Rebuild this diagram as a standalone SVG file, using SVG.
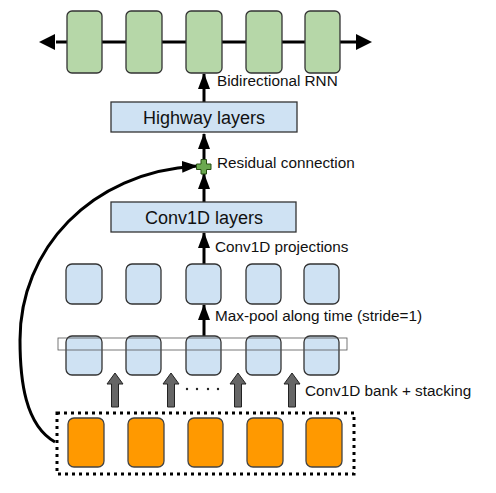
<svg xmlns="http://www.w3.org/2000/svg" width="496" height="493" viewBox="0 0 496 493">
<style>
.green{fill:#b6d7a8;stroke:#333;stroke-width:1.3}
.blue{fill:#cfe2f3;stroke:#333;stroke-width:1.3}
.orange{fill:#ff9900;stroke:#444;stroke-width:1.3}
.lbl{font-family:"Liberation Sans",Arial,sans-serif;font-size:15.3px;fill:#111}
.big{font-family:"Liberation Sans",Arial,sans-serif;font-size:18px;fill:#111;text-anchor:middle}
.conn{stroke:#000;stroke-width:3;fill:none}
.block{fill:#666;stroke:#222;stroke-width:1}
</style>
<defs>
<marker id="ah" markerUnits="userSpaceOnUse" viewBox="0 0 16 12" refX="15" refY="6" markerWidth="16" markerHeight="12" orient="auto">
<path d="M0,0 L16,6 L0,12 Z" fill="#000"/>
</marker>
</defs>
<rect width="496" height="493" fill="#fff"/>
<g id="connectors">
<line class="conn" x1="56" y1="42" x2="356" y2="42"/>
<path d="M39,42 L55,34 L55,50 Z" fill="#000"/>
<path d="M372,42 L356,34 L356,50 Z" fill="#000"/>
<line class="conn" x1="204" y1="102" x2="204" y2="74" marker-end="url(#ah)"/>
<line class="conn" x1="204" y1="159" x2="204" y2="134" marker-end="url(#ah)"/>
<line class="conn" x1="204" y1="202" x2="204" y2="174" marker-end="url(#ah)"/>
<line class="conn" x1="204" y1="265" x2="204" y2="233" marker-end="url(#ah)"/>
<line class="conn" x1="204" y1="337" x2="204" y2="305" marker-end="url(#ah)"/>
<path class="conn" d="M55,442 C25,425 20,380 20,340 C20,250 90,172 197,166" marker-end="url(#ah)"/>
<g id="bank-arrows">
<path class="block" d="M111.5,407 L111.5,384 L107,384 L115,373 L123,384 L118.5,384 L118.5,407 Z"/>
<path class="block" d="M167.5,407 L167.5,384 L163,384 L171,373 L179,384 L174.5,384 L174.5,407 Z"/>
<path class="block" d="M234.5,407 L234.5,384 L230,384 L238,373 L246,384 L241.5,384 L241.5,407 Z"/>
<path class="block" d="M288.5,407 L288.5,384 L284,384 L292,373 L300,384 L295.5,384 L295.5,407 Z"/>
</g>
</g>
<g id="rnn">
<rect class="green" x="67" y="11" width="35" height="62" rx="5"/>
<rect class="green" x="126" y="11" width="36" height="62" rx="5"/>
<rect class="green" x="186" y="11" width="36" height="62" rx="5"/>
<rect class="green" x="246" y="11" width="36" height="62" rx="5"/>
<rect class="green" x="305" y="11" width="35" height="62" rx="5"/>
<text class="lbl" x="217" y="86">Bidirectional RNN</text>
</g>
<g id="highway">
<rect class="blue" x="111" y="102" width="186" height="30"/>
<text class="big" x="204" y="123.5">Highway layers</text>
</g>
<g id="residual">
<path d="M201,159.5 h5.5 v4.5 h4.5 v5.5 h-4.5 v4.5 h-5.5 v-4.5 h-4.5 v-5.5 h4.5 Z" fill="#6aa84f" stroke="#274e13" stroke-width="1"/>
<text class="lbl" x="217" y="168">Residual connection</text>
</g>
<g id="conv1d-layers">
<rect class="blue" x="111" y="202" width="185" height="30"/>
<text class="big" x="204" y="223.5">Conv1D layers</text>
</g>
<g id="projections">
<rect class="blue" x="66" y="264" width="36" height="40" rx="6"/>
<rect class="blue" x="126" y="264" width="35" height="40" rx="6"/>
<rect class="blue" x="186" y="264" width="35" height="40" rx="6"/>
<rect class="blue" x="246" y="264" width="35" height="40" rx="6"/>
<rect class="blue" x="304" y="264" width="35" height="40" rx="6"/>
<text class="lbl" x="215" y="252">Conv1D projections</text>
</g>
<g id="maxpool">
<rect class="blue" x="66" y="336" width="36" height="39" rx="6"/>
<rect class="blue" x="126" y="336" width="35" height="39" rx="6"/>
<rect class="blue" x="186" y="336" width="35" height="39" rx="6"/>
<rect class="blue" x="246" y="336" width="35" height="39" rx="6"/>
<rect class="blue" x="304" y="336" width="35" height="39" rx="6"/>
<rect x="58" y="338" width="289" height="12" fill="none" stroke="#555" stroke-width="0.8"/>
<text class="lbl" x="215" y="321">Max-pool along time (stride=1)</text>
</g>
<g id="bank-label">
<g fill="#222"><circle cx="187" cy="389" r="1.2"/><circle cx="197" cy="389" r="1.2"/><circle cx="208" cy="389" r="1.2"/><circle cx="218" cy="389" r="1.2"/></g>
<text class="lbl" x="305" y="396">Conv1D bank + stacking</text>
</g>
<g id="inputs">
<rect x="57" y="413" width="297" height="61" fill="none" stroke="#000" stroke-width="3" stroke-dasharray="3,4"/>
<rect class="orange" x="68" y="418" width="36" height="49" rx="6"/>
<rect class="orange" x="128" y="418" width="36" height="49" rx="6"/>
<rect class="orange" x="188" y="418" width="35" height="49" rx="6"/>
<rect class="orange" x="247" y="418" width="36" height="49" rx="6"/>
<rect class="orange" x="306" y="418" width="36" height="49" rx="6"/>
</g>
</svg>
